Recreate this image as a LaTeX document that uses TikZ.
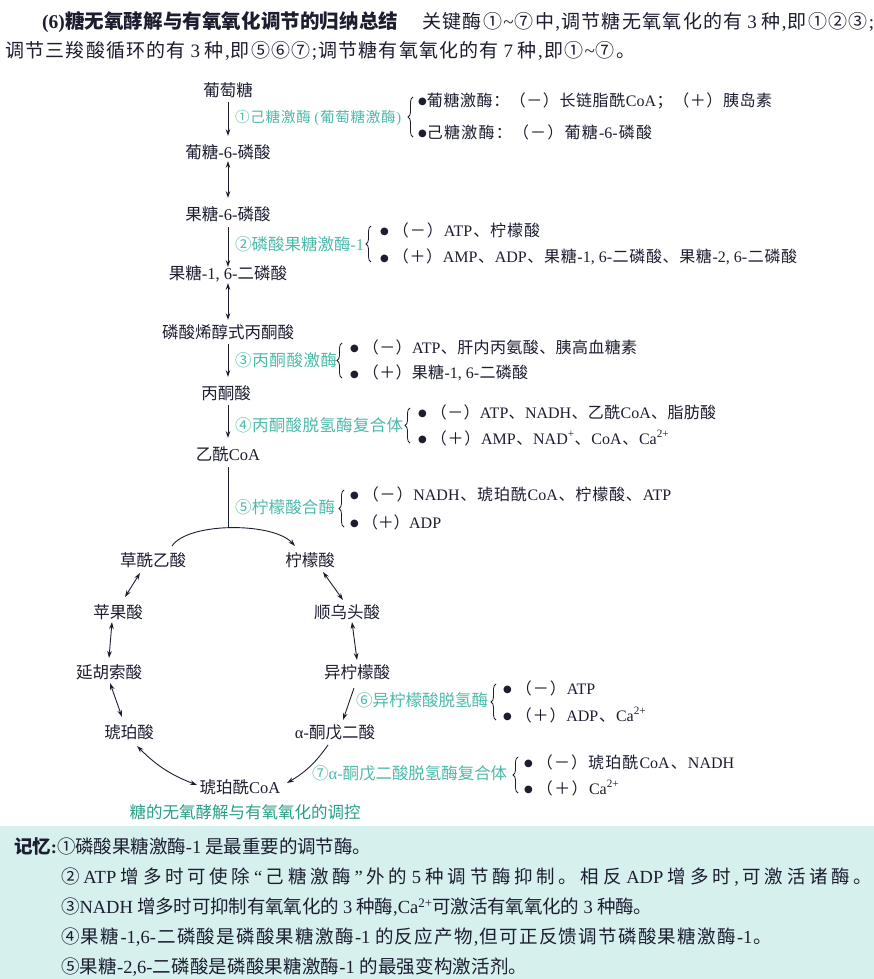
\documentclass[tikz,border=0pt]{standalone}
\usepackage{fontspec}
\setmainfont{Liberation Serif}
\newfontfamily\cjkfont{Noto Sans CJK SC}
\newfontfamily\latfont{Liberation Serif}
\newfontfamily\symfont{DejaVu Sans}
\usetikzlibrary{arrows.meta,decorations.pathreplacing,calc}

% automatic switching between the CJK font and the Latin font
\XeTeXinterchartokenstate=1
\newXeTeXintercharclass\CJKcls
\newcount\cjkcnt
\newcommand\cjkrange[2]{\cjkcnt=#1\relax
  \loop\XeTeXcharclass\cjkcnt=\CJKcls
  \ifnum\cjkcnt<#2\advance\cjkcnt by 1\repeat}
\cjkrange{"2460}{"24FF}
\cjkrange{"3000}{"303F}
\cjkrange{"4E00}{"9FFF}
\cjkrange{"FF00}{"FFEF}
\newcommand\cjkgap{\hskip0pt plus 1fil minus 0.6pt\relax}
\XeTeXinterchartoks 0 \CJKcls = {\cjkgap\cjkfont}
\XeTeXinterchartoks 4095 \CJKcls = {\cjkfont}
\XeTeXinterchartoks \CJKcls 0 = {\cjkgap\latfont}
\XeTeXinterchartoks \CJKcls 4095 = {\latfont}
\XeTeXinterchartoks \CJKcls \CJKcls = {\cjkgap}

% a line set to a given width (in pt)
\newcommand\fitw[2]{\makebox[#1pt][s]{#2}}
% list bullet
\newcommand\dotb{\raisebox{1.6pt}{\symfont\fontsize{10}{10}\selectfont ●}}
\newcommand\bl{\dotb\ }

\definecolor{ink}{RGB}{28,30,48}
\definecolor{enzc}{RGB}{78,186,170}
\definecolor{capc}{RGB}{40,160,135}
\definecolor{boxbg}{RGB}{214,240,238}

\tikzset{
  mol/.style={font=\fontsize{16.5}{19}\selectfont, text=ink, inner sep=0pt},
  enz/.style={anchor=west, font=\fontsize{16.5}{19}\selectfont, text=enzc, inner sep=0pt},
  eff/.style={anchor=west, font=\fontsize{16}{19}\selectfont, text=ink, inner sep=0pt},
  hdr/.style={anchor=west, font=\fontsize{19}{22}\selectfont, text=ink, inner sep=0pt},
  memo/.style={anchor=west, font=\fontsize{18.5}{21}\selectfont, text=ink, inner sep=0pt},
  arr/.style={draw=ink, line width=0.9pt, -{Stealth[length=7pt,width=4.6pt]}},
  darr/.style={draw=ink, line width=0.9pt, {Stealth[length=7pt,width=4.6pt]}-{Stealth[length=7pt,width=4.6pt]}},
  brc/.style={draw=ink, line width=0.8pt, decorate, decoration={brace, amplitude=5pt}},
}

\begin{document}
\begin{tikzpicture}[x=1pt,y=-1pt]
\useasboundingbox (0,0) rectangle (874,979);
\fill[white] (0,0) rectangle (874,979);
\fill[boxbg] (0,826) rectangle (874,979);

% heading
\node[hdr, font=\fontsize{19.5}{22}\selectfont\bfseries] (title) at (42,22)
  {\fitw{356}{(6)糖无氧酵解与有氧氧化调节的归纳总结}};
\node[hdr] (hd1) at (422,22)
  {\fitw{452}{关键酶①\textasciitilde⑦中,调节糖无氧氧化的有 3 种,即①②③;}};
\node[hdr] (hd2) at (5,51)
  {\fitw{630}{调节三羧酸循环的有 3 种,即⑤⑥⑦;调节糖有氧氧化的有 7 种,即①\textasciitilde⑦。}};

% glycolysis chain
\node[mol] (glc)  at (228,90)  {葡萄糖};
\node[mol] (g6p)  at (228,152) {葡糖-6-磷酸};
\node[mol] (f6p)  at (228,214) {果糖-6-磷酸};
\node[mol] (fbp)  at (228,274) {果糖-1, 6-二磷酸};
\node[mol] (pep)  at (228,332) {磷酸烯醇式丙酮酸};
\node[mol] (pyr)  at (226,393) {丙酮酸};
\node[mol] (acoa) at (228,454) {乙酰CoA};

\draw[arr]  ($(glc.center)+(0,12)$) -- ($(g6p.center)+(0,-16)$);
\draw[darr] ($(g6p.center)+(0,9)$)  -- ($(f6p.center)+(0,-16)$);
\draw[arr]  ($(f6p.center)+(0,13)$) -- ($(fbp.center)+(0,-7)$);
\draw[darr] ($(fbp.center)+(0,9)$)  -- ($(pep.center)+(0,-12)$);
\draw[arr]  ($(pep.center)+(0,12)$) -- ($(pyr.center)+(2,-16)$);
\draw[arr]  ($(pyr.center)+(2,12)$) -- ($(acoa.center)+(0,-16)$);

% citric acid cycle
\node[mol] (oaa)  at (153,560) {草酰乙酸};
\node[mol] (cit)  at (310,560) {柠檬酸};
\node[mol] (cis)  at (347,612) {顺乌头酸};
\node[mol] (iso)  at (357,672) {异柠檬酸};
\node[mol] (akg)  at (335,732) {α-酮戊二酸};
\node[mol] (scoa) at (240,787) {琥珀酰CoA};
\node[mol] (suc)  at (129,732) {琥珀酸};
\node[mol] (fum)  at (109,672) {延胡索酸};
\node[mol] (mal)  at (118,612) {苹果酸};

\coordinate (arctop) at (228,528);
\draw[ink, line width=0.9pt] ($(acoa.center)+(0,13)$) -- (arctop);
\draw[arr] ($(oaa.center)+(19,-14)$) .. controls +(16,-24) and +(-22,-24) .. ($(cit.center)+(-15,-14)$);
\draw[darr] ($(cit.center)+(13,12)$) -- ($(cis.center)+(-4,-12)$);
\draw[darr] ($(cis.center)+(5,10)$)  -- ($(iso.center)+(0,-12)$);
\draw[arr]  ($(iso.center)+(-3,16)$) -- ($(akg.center)+(8,-12)$);
\draw[arr]  ($(akg.center)+(-7,13)$) to[bend left=12] ($(scoa.center)+(47,-4)$);
\draw[darr] ($(scoa.center)+(-43,-2)$) to[bend left=12] ($(suc.center)+(8,14)$);
\draw[darr] ($(suc.center)+(-7,-15)$) -- ($(fum.center)+(1,11)$);
\draw[darr] ($(fum.center)+(0,-14)$) -- ($(mal.center)+(-6,10)$);
\draw[darr] ($(mal.center)+(7,-15)$) -- ($(oaa.center)+(-13,13)$);

% regulated enzymes and their effectors
\node[enz, font=\fontsize{14.5}{18}\selectfont] (e1) at (235,118) {\fitw{166}{①己糖激酶 (葡萄糖激酶)}};
\draw[brc] (413,137) -- (413,97);
\node[eff] (e1a) at (418,101) {\fitw{354}{\dotb{}葡糖激酶：（－）长链脂酰CoA；（＋）胰岛素}};
\node[eff] (e1b) at (418,132) {\fitw{234}{\dotb{}己糖激酶：（－）葡糖-6-磷酸}};

\node[enz] (e2) at (235,244) {\fitw{129}{②磷酸果糖激酶-1}};
\draw[brc] (371,262) -- (371,226);
\node[eff] (e2a) at (380,230) {\fitw{160}{\bl（－）ATP、柠檬酸}};
\node[eff] (e2b) at (380,257) {\fitw{417}{\bl（＋）AMP、ADP、果糖-1, 6-二磷酸、果糖-2, 6-二磷酸}};

\node[enz] (e3) at (235,360) {\fitw{102}{③丙酮酸激酶}};
\draw[brc] (342,378) -- (342,343);
\node[eff] (e3a) at (350,347) {\fitw{287}{\bl（－）ATP、肝内丙氨酸、胰高血糖素}};
\node[eff] (e3b) at (350,373) {\fitw{178}{\bl（＋）果糖-1, 6-二磷酸}};

\node[enz] (e4) at (235,425) {\fitw{168}{④丙酮酸脱氢酶复合体}};
\draw[brc] (410,443) -- (410,408);
\node[eff] (e4a) at (418,412) {\fitw{298}{\bl（－）ATP、NADH、乙酰CoA、脂肪酸}};
\node[eff] (e4b) at (418,438) {\fitw{251}{\bl（＋）AMP、NAD\textsuperscript{+}、CoA、Ca\textsuperscript{2+}}};

\node[enz] (e5) at (235,507) {\fitw{100}{⑤柠檬酸合酶}};
\draw[brc] (344,527) -- (344,490);
\node[eff] (e5a) at (350,494) {\fitw{321}{\bl（－）NADH、琥珀酰CoA、柠檬酸、ATP}};
\node[eff] (e5b) at (350,522) {\fitw{91}{\bl（＋）ADP}};

\node[enz] (e6) at (356,700) {\fitw{132}{⑥异柠檬酸脱氢酶}};
\draw[brc] (496,720) -- (496,684);
\node[eff] (e6a) at (503,688) {\fitw{92}{\bl（－）ATP}};
\node[eff] (e6b) at (503,715) {\fitw{143}{\bl（＋）ADP、Ca\textsuperscript{2+}}};

\node[enz] (e7) at (312,773) {\fitw{195}{⑦α-酮戊二酸脱氢酶复合体}};
\draw[brc] (518,793) -- (518,757);
\node[eff] (e7a) at (524,762) {\fitw{210}{\bl（－）琥珀酰CoA、NADH}};
\node[eff] (e7b) at (524,788) {\fitw{95}{\bl（＋）Ca\textsuperscript{2+}}};

% caption
\node[mol, text=capc] (cap) at (245,812) {糖的无氧酵解与有氧氧化的调控};

% memo box
\node[memo] (m1) at (14,846) {\fitw{357}{{\bfseries 记忆:}①磷酸果糖激酶-1 是最重要的调节酶。}};
\node[memo] (m2) at (61,877) {\fitw{811}{②ATP 增多时可使除“己糖激酶”外的 5 种调节酶抑制。相反 ADP 增多时,可激活诸酶。}};
\node[memo] (m3) at (61,907) {\fitw{591}{③NADH 增多时可抑制有氧氧化的 3 种酶,Ca\textsuperscript{2+}可激活有氧氧化的 3 种酶。}};
\node[memo] (m4) at (61,937) {\fitw{711}{④果糖-1,6-二磷酸是磷酸果糖激酶-1 的反应产物,但可正反馈调节磷酸果糖激酶-1。}};
\node[memo] (m5) at (61,967) {\fitw{466}{⑤果糖-2,6-二磷酸是磷酸果糖激酶-1 的最强变构激活剂。}};
\end{tikzpicture}
\end{document}
